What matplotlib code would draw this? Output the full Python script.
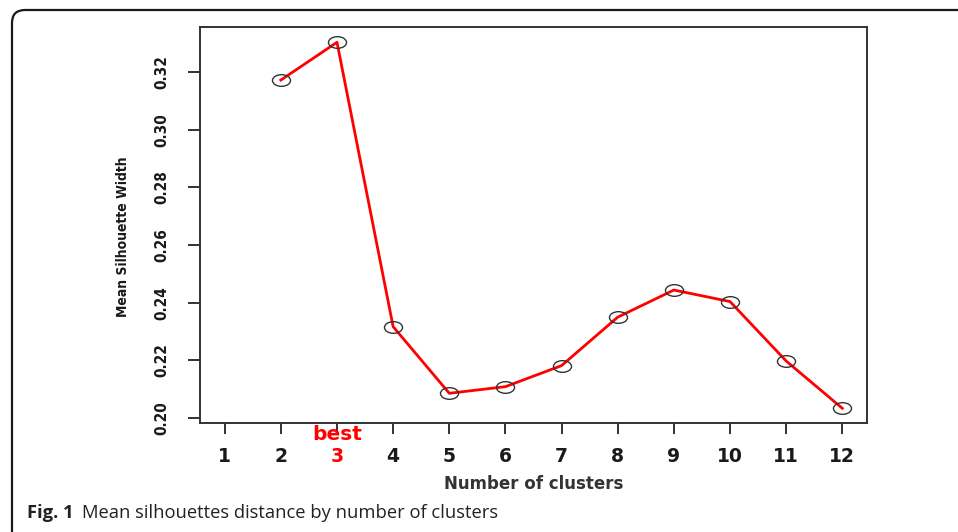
import numpy as np
import matplotlib
matplotlib.use('Agg')
import matplotlib.pyplot as plt
from matplotlib.path import Path
from matplotlib.transforms import Affine2D
from matplotlib.patches import FancyBboxPatch

# data
n_clusters = [2, 3, 4, 5, 6, 7, 8, 9, 10, 11, 12]
mean_sil = [0.3172, 0.3303, 0.2317, 0.2086, 0.2109, 0.2182,
            0.2350, 0.2444, 0.2404, 0.2198, 0.2034]
x_ticks = list(range(1, 13))
y_ticks = [0.20, 0.22, 0.24, 0.26, 0.28, 0.30, 0.32]
best_k = 3

SANS = ['DejaVu Sans']
CAP = ['Open Sans', 'DejaVu Sans']

fig = plt.figure(figsize=(9.58, 5.32), dpi=100)
ax = fig.add_axes([200/958, 1 - 423/532, 667/958, 396/532])

# ellipse marker (the original image is stretched horizontally)
ell = Path.unit_circle().transformed(Affine2D().scale(1.55, 1.0))

ax.plot(n_clusters, mean_sil, '-', color='#ff0000', linewidth=2.0, zorder=2)
ax.plot(n_clusters, mean_sil, linestyle='none', marker=ell, markersize=13,
        markerfacecolor='none', markeredgecolor='#333333',
        markeredgewidth=1.0, zorder=3)

ax.set_xlim(0.56, 12.44)
ax.set_ylim(0.1983, 0.3356)

ax.set_xticks(x_ticks)
ax.set_xticklabels([str(k) for k in x_ticks], fontsize=13.5,
                   fontweight='bold', family=SANS)
for lbl, k in zip(ax.get_xticklabels(), x_ticks):
    lbl.set_color('#ff0000' if k == best_k else '#1a1a1a')
ax.set_yticks(y_ticks)
ax.set_yticklabels([f'{v:.2f}' for v in y_ticks], rotation=90,
                   va='center', fontsize=11, fontweight='bold',
                   family=SANS, fontstretch='condensed', color='#1a1a1a')

ax.tick_params(axis='x', length=8, width=1.3, pad=9, color='#222222')
ax.tick_params(axis='y', length=9, width=1.3, pad=13, color='#222222')

ax.text(best_k, -0.028, 'best', transform=ax.get_xaxis_transform(),
        ha='center', va='center', color='#ff0000', fontsize=14.5,
        fontweight='bold', family=SANS)

ax.set_xlabel('Number of clusters', fontsize=12, fontweight='bold',
              color='#333333', family=SANS, labelpad=7)
ax.set_ylabel('Mean Silhouette Width', fontsize=10, fontweight='bold',
              family=SANS, fontstretch='condensed', color='#1a1a1a')
ax.yaxis.set_label_coords(-0.105, 0.47)

for s in ax.spines.values():
    s.set_linewidth(1.4)
    s.set_color('#333333')

# outer rounded frame (only top and left edges visible)
frame = FancyBboxPatch((0.12, -0.5), 11.0, 5.22 + 0.5,
                       boxstyle='round,pad=0,rounding_size=0.13',
                       transform=fig.dpi_scale_trans, fill=False,
                       edgecolor='#1a1a1a', linewidth=1.6, clip_on=False)
fig.patches.append(frame)

# caption
fig.text(27/958, 1 - 513/532, 'Fig. 1', fontsize=13.2, fontweight='bold',
         family=CAP, va='center', ha='left', color='#222222')
fig.text(82/958, 1 - 513/532, 'Mean silhouettes distance by number of clusters',
         fontsize=13.2, family=CAP, va='center', ha='left', color='#222222')

fig.savefig('out.png', dpi=100)
